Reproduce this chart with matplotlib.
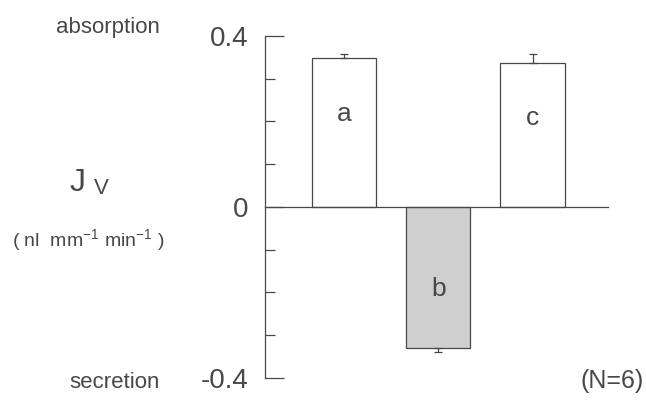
import matplotlib
matplotlib.use("Agg")
import matplotlib.pyplot as plt
from matplotlib.ticker import MultipleLocator

plt.rcParams['font.family'] = ['Liberation Sans', 'DejaVu Sans']
plt.rcParams['mathtext.fontset'] = 'custom'
plt.rcParams['mathtext.rm'] = 'Liberation Sans'
plt.rcParams['mathtext.it'] = 'Liberation Sans'

categories = ['a', 'b', 'c']
values = [0.349, -0.33, 0.337]
errors = [0.009, 0.01, 0.021]
fills = ['white', '#cfcfcf', 'white']
yticks = [-0.4, 0, 0.4]
ytick_labels = ['-0.4', '0', '0.4']

W, H = 646, 400
fig = plt.figure(figsize=(W / 100, H / 100), dpi=100)
ax = fig.add_axes([265 / W, 1 - 378 / H, 1 - 265 / W, (378 - 36) / H])

gray = '#484848'
xs = list(range(len(categories)))
upper = [e if v > 0 else 0 for v, e in zip(values, errors)]
lower = [e if v < 0 else 0 for v, e in zip(values, errors)]
ax.bar(xs, values, width=0.68, color=fills, edgecolor=gray, linewidth=0.9, zorder=2)
ax.errorbar(xs, values, yerr=[lower, upper], fmt='none', ecolor=gray,
            elinewidth=0.9, capsize=3, capthick=0.9, zorder=3)
ax.plot([-0.84, 2.80], [0, 0], color=gray, linewidth=0.9, zorder=4, clip_on=False)

for x, v, c in zip(xs, values, categories):
    ax.text(x, v * 0.62 if v > 0 else v * 0.58, c, ha='center', va='center',
            fontsize=19, color=gray)

ax.set_xlim(-0.838, 3.204)
ax.set_ylim(-0.4, 0.4)
for s in ['top', 'right', 'bottom']:
    ax.spines[s].set_visible(False)
ax.spines['left'].set_color(gray)
ax.spines['left'].set_linewidth(0.9)
ax.set_xticks([])
ax.set_yticks(yticks)
ax.set_yticklabels(ytick_labels)
ax.yaxis.set_minor_locator(MultipleLocator(0.1))
ax.tick_params(axis='y', which='major', direction='in', length=14, width=0.9,
               color=gray, labelcolor=gray, labelsize=20, pad=12)
ax.tick_params(axis='y', which='minor', direction='in', length=7, width=0.9, color=gray)

def ftext(x, y, s, **kw):
    fig.text(x / W, 1 - y / H, s, color=gray, **kw)

ftext(108, 27, 'absorption', ha='center', va='center', fontsize=16)
ftext(115, 383, 'secretion', ha='center', va='center', fontsize=16)
ftext(86, 183, 'J', ha='right', va='center', fontsize=23)
ftext(94, 189, 'V', ha='left', va='center', fontsize=16)
ftext(88, 240, r'( nl  mm$^{-1}$ min$^{-1}$ )', ha='center', va='center', fontsize=14)
ftext(581, 381, '(N=6)', ha='left', va='center', fontsize=18)

fig.savefig('out.png', dpi=100)
